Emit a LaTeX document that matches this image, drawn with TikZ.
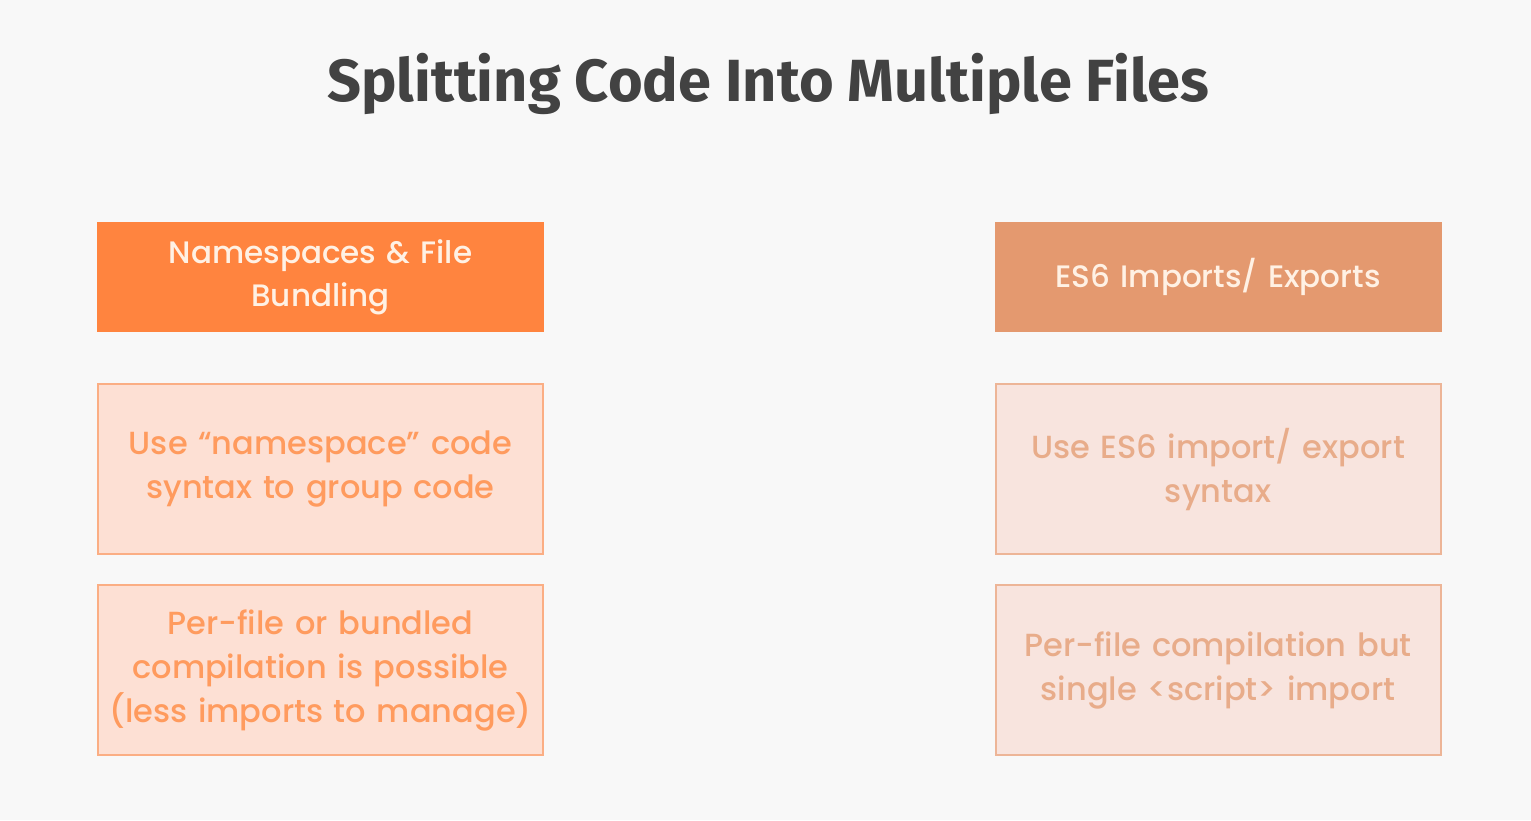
\documentclass[tikz,border=0pt]{standalone}
\usepackage{fontspec}
\setmainfont{Poppins}[UprightFont=* Medium]
\newfontfamily\titlefont{Fira Sans}
\usetikzlibrary{positioning}
\definecolor{bggray}{HTML}{F8F8F8}
\definecolor{titlegray}{HTML}{424242}
\definecolor{nsorange}{HTML}{FF843F}
\definecolor{esorange}{HTML}{E4996F}
\definecolor{headtext}{HTML}{FFF1E4}
\definecolor{nsfill}{HTML}{FDE0D4}
\definecolor{nsline}{HTML}{FBAE84}
\definecolor{nstext}{HTML}{FF9B5E}
\definecolor{esfill}{HTML}{F8E4DE}
\definecolor{esline}{HTML}{EDB597}
\definecolor{estext}{HTML}{E8AC8A}
\tikzset{
    %Define style for header boxes
    headbox/.style={
           rectangle,
           minimum width=447pt,
           minimum height=110pt,
           text width=420pt,
           align=center,
           text=headtext,
           font=\fontsize{31}{43}\selectfont},
    % Define style for content boxes
    infobox/.style={
           rectangle,
           line width=2pt,
           minimum width=445pt,
           minimum height=170pt,
           text width=430pt,
           align=center,
           font=\fontsize{32}{44}\selectfont}
}
\begin{document}
\begin{tikzpicture}[x=1pt,y=-1pt,node distance=51pt]
         \useasboundingbox[fill=bggray] (0,0) rectangle (1531,820);
         %title
          \node[text=titlegray,font=\titlefont\bfseries\fontsize{59.5}{64}\selectfont]
          (title) at (768,84) {Splitting Code Into Multiple Files};
         %left column
          \node[headbox,fill=nsorange] (nshead) at (320.5,277)
          {Namespaces \& File\\Bundling};
          \node[infobox,fill=nsfill,draw=nsline,text=nstext,below=of nshead]
          (nssyntax) {Use “namespace” code\\syntax to group code};
          \node[infobox,fill=nsfill,draw=nsline,text=nstext,below=29pt of nssyntax]
          (nscompile) {Per-file or bundled\\compilation is possible\\(less imports to manage)};
         %right column
          \node[headbox,fill=esorange] (eshead) at (1218,277)
          {ES6 Imports/ Exports};
          \node[infobox,fill=esfill,draw=esline,text=estext,below=of eshead]
          (essyntax) {Use ES6 import/ export\\syntax};
          \node[infobox,fill=esfill,draw=esline,text=estext,below=29pt of essyntax]
          (escompile) {Per-file compilation but\\single <script> import};
        \end{tikzpicture}
\end{document}
